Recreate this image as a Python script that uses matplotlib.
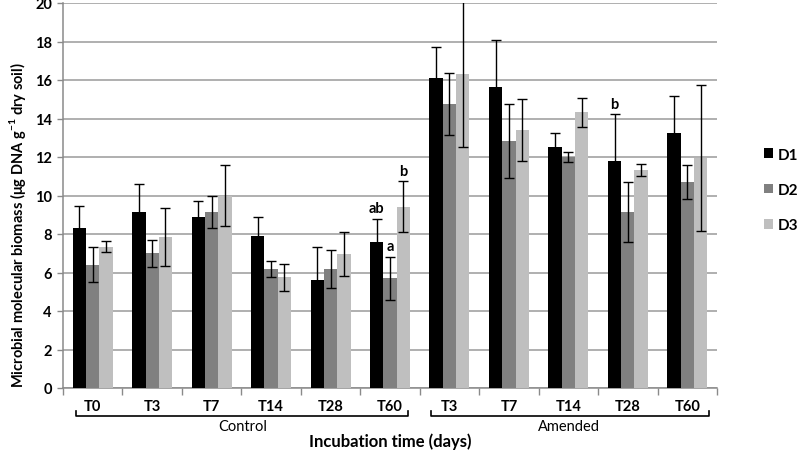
import matplotlib
matplotlib.use("Agg")
import matplotlib.pyplot as plt
import matplotlib.transforms as mtransforms
import numpy as np

categories = ['T0', 'T3', 'T7', 'T14', 'T28', 'T60', 'T3', 'T7', 'T14', 'T28', 'T60']
group_names = ['Control', 'Amended']
series_names = ['D1', 'D2', 'D3']
d1 = [8.33, 9.14, 8.90, 7.91, 5.61, 7.58, 16.11, 15.66, 12.50, 11.78, 13.23]
d1_err = [1.15, 1.46, 0.79, 0.97, 1.71, 1.21, 1.63, 2.41, 0.73, 2.45, 1.93]
d2 = [6.41, 7.01, 9.14, 6.17, 6.17, 5.70, 14.75, 12.83, 12.00, 9.14, 10.69]
d2_err = [0.92, 0.70, 0.83, 0.41, 1.00, 1.11, 1.63, 1.90, 0.26, 1.55, 0.87]
d3 = [7.34, 7.84, 10.00, 5.75, 6.96, 9.41, 16.32, 13.40, 14.32, 11.31, 11.95]
d3_err = [0.30, 1.49, 1.60, 0.69, 1.12, 1.32, 3.82, 1.62, 0.77, 0.31, 3.80]
annotations = [(5, 0, 'ab'), (5, 1, 'a'), (5, 2, 'b'), (9, 0, 'b')]
yticks = [0, 2, 4, 6, 8, 10, 12, 14, 16, 18, 20]

plt.rcParams['font.family'] = ['Lato', 'DejaVu Sans']
plt.rcParams['mathtext.fontset'] = 'custom'
plt.rcParams['mathtext.rm'] = 'Lato'
plt.rcParams['mathtext.bf'] = 'Lato:bold'

W, H = 800, 452
fig = plt.figure(figsize=(8, 4.52), dpi=100)
ax = fig.add_axes([63 / W, 1 - 389 / H, (717 - 63) / W, (389 - 4) / H])

colors = ['#000000', '#808080', '#bfbfbf']
values = [d1, d2, d3]
errs = [d1_err, d2_err, d3_err]
x = np.arange(len(categories))
bw = 0.224
for i, (v, e, c, n) in enumerate(zip(values, errs, colors, series_names)):
    pos = x + (i - 1) * bw
    ax.bar(pos, v, width=bw, color=c, label=n, zorder=3)
    ax.errorbar(pos, v, yerr=e, fmt='none', ecolor='black', elinewidth=1.0,
                capsize=3.8, capthick=1.0, zorder=4)

for gi, si, lab in annotations:
    xv = x[gi] + (si - 1) * bw
    yv = values[si][gi] + errs[si][gi]
    ax.annotate(lab, (xv, yv), xytext=(0, 2.5), textcoords='offset points',
                ha='center', va='bottom', fontsize=10.5, fontweight='bold')

ax.set_xlim(-0.5, len(categories) - 0.5)
ax.set_ylim(0, 20)
ax.set_yticks(yticks)
ax.set_yticklabels([str(t) for t in yticks], fontsize=10.5, fontweight='bold')
ax.grid(axis='y', color='#9a9a9a', linewidth=1.1, zorder=0)
ax.set_axisbelow(True)

ax.set_xticks(np.arange(-0.5, len(categories), 1.0))
ax.set_xticklabels([])
ax.set_xticks(x, minor=True)
ax.set_xticklabels(categories, minor=True, fontsize=10.5, fontweight='bold')
ax.tick_params(axis='x', which='major', length=5, color='#8a8a8a', width=1)
ax.tick_params(axis='x', which='minor', length=0, pad=8)
ax.tick_params(axis='y', length=4, color='#8a8a8a', width=1, pad=4)

for s in ['top', 'right']:
    ax.spines[s].set_visible(False)
for s in ['left', 'bottom']:
    ax.spines[s].set_color('#8a8a8a')
    ax.spines[s].set_linewidth(1.1)

# group brackets
trans = mtransforms.blended_transform_factory(ax.transData, fig.transFigure)
brackets = [(-0.28, 5.30, 2.52), (5.69, 10.37, 8.01)]
yl = 1 - 417 / H
yt = 1 - 412 / H
for (x0, x1, xc), name in zip(brackets, group_names):
    ax.plot([x0, x0, x1, x1], [yt, yl, yl, yt], transform=trans, color='black',
            lw=1.2, clip_on=False)
    fig.text(xc, 1 - 427 / H, name, transform=trans, ha='center', va='center',
             fontsize=10.5)

fig.text((63 + 717) / 2 / W, 1 - 442 / H, 'Incubation time (days)', ha='center',
         va='center', fontsize=12, fontweight='bold')
fig.text(18 / W, 1 - 388 / H,
         r'Microbial molecular biomass ($\mathbf{\mu}$g DNA g$^{\mathbf{-1}}$ dry soil)',
         rotation=90, ha='center', va='bottom', fontsize=10.5, fontweight='bold')

leg = fig.legend(loc='center left', bbox_to_anchor=(764 / W, 1 - 191 / H),
                 frameon=False, fontsize=11, handlelength=0.6, handleheight=0.6,
                 labelspacing=1.4, handletextpad=0.3, borderaxespad=0,
                 borderpad=0)
for t in leg.get_texts():
    t.set_fontweight('bold')

fig.savefig('out.png', dpi=100)
